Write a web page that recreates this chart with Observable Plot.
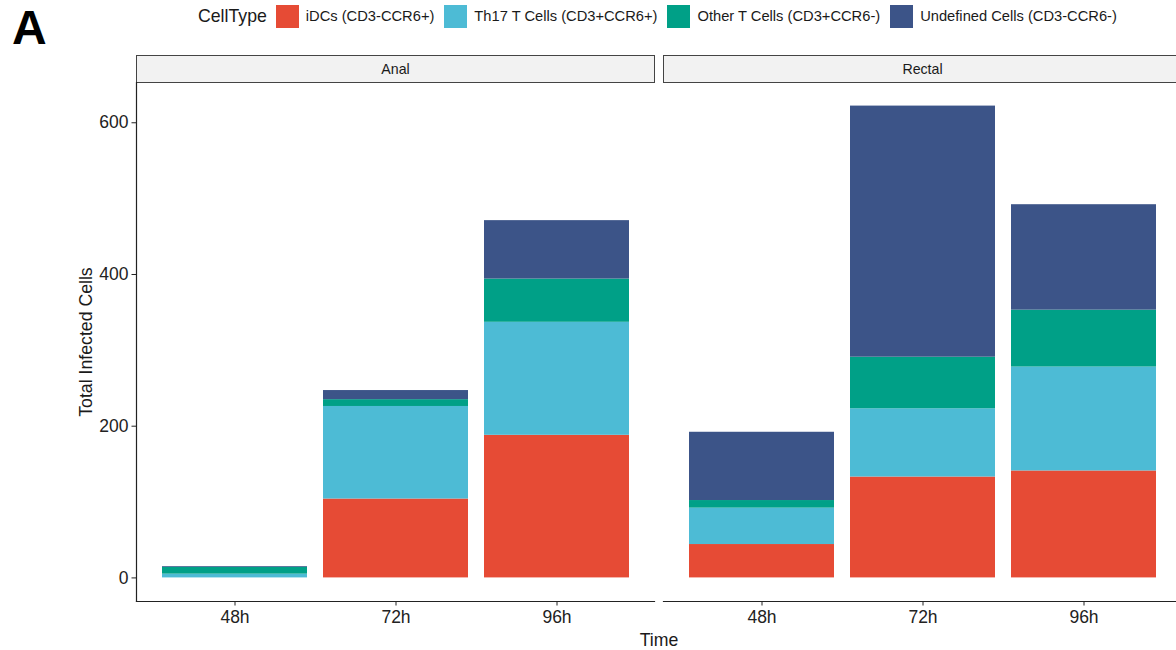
<!DOCTYPE html>
<html>
<head>
<meta charset="utf-8">
<script src="https://cdn.jsdelivr.net/npm/d3@7"></script>
<script src="https://cdn.jsdelivr.net/npm/@observablehq/plot@0.6"></script>
<style>
  html, body { margin: 0; padding: 0; background: #fff; overflow: hidden; }
  #wrap { position: relative; width: 1176px; height: 650px; overflow: hidden; font-family: "Liberation Sans", Arial, sans-serif; }
  #header { position: relative; height: 40px; }
  #tag { position: absolute; left: 12px; top: 4px; font-size: 48px; line-height: 1; font-weight: bold; color: #000; }
  #legend { position: absolute; left: 198px; top: 4px; height: 24px; display: flex; align-items: center; white-space: nowrap; color: #1a1a1a; }
  #legend .title { font-size: 17.7px; margin-right: 9px; }
  #legend .sw { width: 23px; height: 23px; margin-right: 7px; }
  #legend .lab { font-size: 14.7px; margin-right: 10px; }
  #chart svg { display: block; max-width: none !important; height: auto; }
</style>
</head>
<body>
<div id="wrap">
  <div id="header">
    <div id="tag">A</div>
    <div id="legend"></div>
  </div>
  <div id="chart"></div>
</div>
<script>
// ---- data ----
const sites = ["Anal", "Rectal"];
const times = ["48h", "72h", "96h"];
const cellTypes = [
  "iDCs (CD3-CCR6+)",
  "Th17 T Cells (CD3+CCR6+)",
  "Other T Cells (CD3+CCR6-)",
  "Undefined Cells (CD3-CCR6-)"
];
const colors = ["#E64B35", "#4DBBD5", "#00A087", "#3C5488"];
// values ordered: Anal 48h, 72h, 96h, Rectal 48h, 72h, 96h
const iDCs      = [0, 104, 188, 44, 133, 141];
const th17      = [5, 122, 149, 48, 90, 137];
const otherT    = [9, 9, 57, 10, 68, 75];
const undefinedCells = [1, 12, 77, 90, 331, 139];
const yTicks = [0, 200, 400, 600];
const legendTitle = "CellType";
const xTitle = "Time";
const yTitle = "Total Infected Cells";

const seriesValues = [iDCs, th17, otherT, undefinedCells];
const rows = [];
sites.forEach((s, si) => times.forEach((t, ti) => cellTypes.forEach((c, ci) => {
  rows.push({site: s, time: t, cellType: c, count: seriesValues[ci][si * times.length + ti]});
})));
const totals = d3.rollup(rows, v => d3.sum(v, d => d.count), d => d.site, d => d.time);
const maxTotal = d3.max(Array.from(totals.values(), m => d3.max(m.values())));

// ---- legend ----
const legend = document.getElementById("legend");
const t = document.createElement("span");
t.className = "title"; t.textContent = legendTitle; legend.appendChild(t);
cellTypes.forEach((c, i) => {
  const sw = document.createElement("span");
  sw.className = "sw"; sw.style.background = colors[i]; legend.appendChild(sw);
  const lab = document.createElement("span");
  lab.className = "lab"; lab.textContent = c; legend.appendChild(lab);
});

// ---- plot ----
const W = 1182, H = 610, MT = 42, MB = 49, ML = 136, MR = 0;
const plotH = H - MT - MB;
const chart = Plot.plot({
  width: W, height: H,
  marginTop: MT, marginBottom: MB, marginLeft: ML, marginRight: MR,
  style: {fontFamily: "'Liberation Sans', Arial, sans-serif", color: "#222", background: "#fff", overflow: "visible", maxWidth: "none"},
  fx: {domain: sites, paddingInner: 0.0163, paddingOuter: 0, axis: null, label: null},
  x: {domain: times, paddingInner: 0.1, paddingOuter: 0.15, label: null},
  y: {domain: [-0.05 * maxTotal, 1.05 * maxTotal], label: null},
  color: {domain: cellTypes, range: colors},
  marks: [
    // strip backgrounds
    Plot.frame({fill: "#f2f2f2", stroke: "#444", strokeWidth: 1, insetTop: -27, insetBottom: plotH}),
    Plot.text(sites, {fx: d => d, text: d => d, frameAnchor: "top", dy: -13.5, lineAnchor: "middle", fontSize: 14.2, fill: "#1a1a1a"}),
    // bars
    Plot.barY(rows, {fx: "site", x: "time", y: "count", fill: "cellType"}),
    // axes
    Plot.axisY({ticks: yTicks, tickSize: 4.5, tickPadding: 3.5, fontSize: 17.5, label: null}),
    Plot.axisX({tickSize: 4.5, tickPadding: 5, fontSize: 17.5, label: null}),
    Plot.frame({anchor: "left", facetAnchor: "left", stroke: "#222", strokeWidth: 1.2}),
    Plot.frame({anchor: "bottom", stroke: "#222", strokeWidth: 1.2}),
    // titles
    Plot.text([yTitle], {facet: "super", frameAnchor: "left", textAnchor: "middle", lineAnchor: "middle", rotate: -90, dx: -50, fontSize: 17.7, fill: "#1a1a1a"}),
    Plot.text([xTitle], {facet: "super", frameAnchor: "bottom", lineAnchor: "middle", dy: 39, fontSize: 17.7, fill: "#1a1a1a"})
  ]
});
document.getElementById("chart").appendChild(chart);
</script>
</body>
</html>
